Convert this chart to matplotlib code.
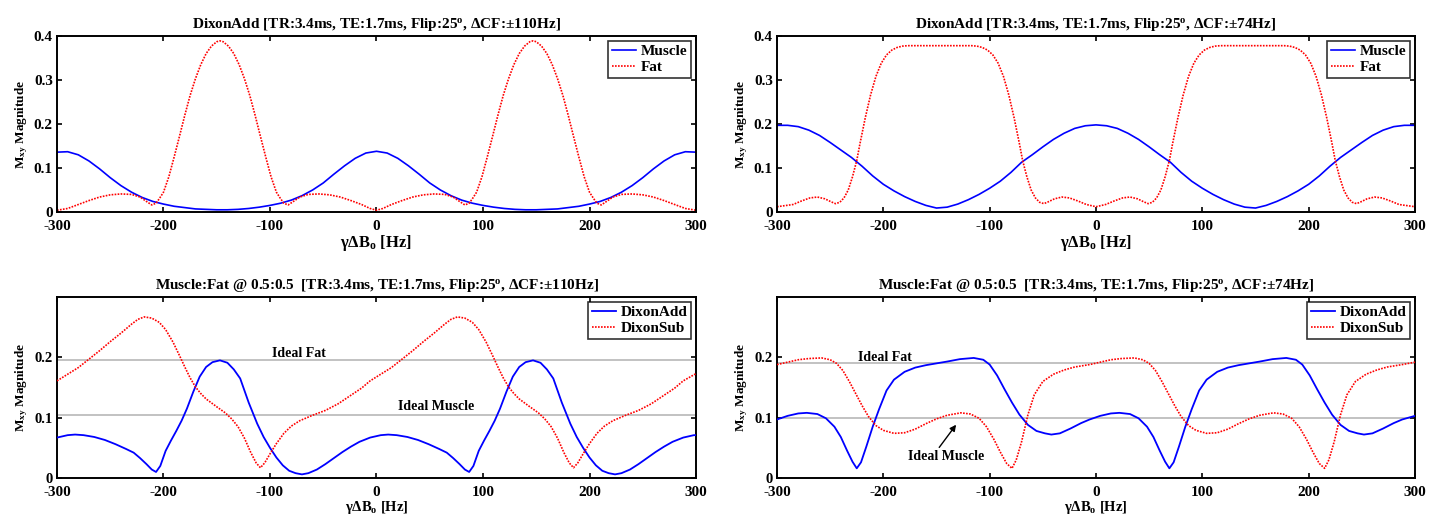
import numpy as np
import matplotlib
matplotlib.use('Agg')
import matplotlib.pyplot as plt
from matplotlib.ticker import FuncFormatter

# ---- top row: single species, DixonAdd ----
freq10 = np.arange(-300, 301, 10)

muscle_110 = [0.136, 0.137, 0.130, 0.116, 0.098, 0.078, 0.060, 0.045, 0.033, 0.024,
              0.018, 0.013, 0.010, 0.007, 0.006, 0.005, 0.005, 0.006, 0.008, 0.011,
              0.015, 0.020, 0.027, 0.037, 0.050, 0.066, 0.086, 0.105, 0.122, 0.134,
              0.138,
              0.134, 0.122, 0.105, 0.086, 0.066, 0.050, 0.037, 0.027, 0.020, 0.015,
              0.011, 0.008, 0.006, 0.005, 0.005, 0.006, 0.007, 0.010, 0.013, 0.018,
              0.024, 0.033, 0.045, 0.060, 0.078, 0.098, 0.116, 0.130, 0.137, 0.136]

fat_110_x = [-300, -290, -280, -270, -260, -250, -240, -230, -222, -216, -211, -207, -204,
             -200, -195, -190, -185, -180, -175, -170, -165, -160, -155, -150, -147,
             -144, -139, -134, -129, -124, -119, -114, -109, -104, -99, -94, -90, -87,
             -83, -78, -72, -64, -54, -44, -34, -24, -14, -6, 0,
             6, 14, 24, 34, 44, 54, 64, 72, 78, 83, 87, 90, 94, 99, 104, 109, 114, 119,
             124, 129, 134, 139, 144, 147, 150, 155, 160, 165, 170, 175, 180, 185, 190,
             195, 200, 204, 207, 211, 216, 222, 230, 240, 250, 260, 270, 280, 290, 300]
fat_110 = [0.004, 0.008, 0.017, 0.026, 0.034, 0.039, 0.041, 0.040, 0.034, 0.024, 0.016, 0.020, 0.030,
           0.045, 0.080, 0.125, 0.172, 0.220, 0.265, 0.303, 0.335, 0.360, 0.377, 0.387, 0.389,
           0.387, 0.377, 0.360, 0.335, 0.303, 0.265, 0.220, 0.172, 0.125, 0.080, 0.045, 0.030, 0.020,
           0.016, 0.024, 0.034, 0.040, 0.041, 0.039, 0.034, 0.026, 0.017, 0.008, 0.004,
           0.008, 0.017, 0.026, 0.034, 0.039, 0.041, 0.040, 0.034, 0.024, 0.016, 0.020, 0.030, 0.045,
           0.080, 0.125, 0.172, 0.220, 0.265, 0.303, 0.335, 0.360, 0.377, 0.387, 0.389, 0.387, 0.377,
           0.360, 0.335, 0.303, 0.265, 0.220, 0.172, 0.125, 0.080, 0.045, 0.030, 0.020, 0.016, 0.024,
           0.034, 0.040, 0.041, 0.039, 0.034, 0.026, 0.017, 0.008, 0.004]

muscle_74 = [0.197, 0.197, 0.194, 0.186, 0.174, 0.158, 0.141, 0.124, 0.104, 0.082,
             0.063, 0.048, 0.035, 0.024, 0.015, 0.009, 0.011, 0.018, 0.028, 0.040,
             0.054, 0.070, 0.090, 0.113, 0.130, 0.148, 0.165, 0.179, 0.190, 0.196,
             0.198,
             0.196, 0.190, 0.179, 0.165, 0.148, 0.130, 0.113, 0.090, 0.070, 0.054,
             0.040, 0.028, 0.018, 0.011, 0.009, 0.015, 0.024, 0.035, 0.048, 0.063,
             0.082, 0.104, 0.124, 0.141, 0.158, 0.174, 0.186, 0.194, 0.197, 0.197]

fat_74_x = [-300, -285, -277, -269, -262, -255, -249, -245, -241, -237, -233, -229, -225,
            -222, -217, -212, -207, -202, -197, -192, -187, -182, -177, -147, -117, -112,
            -107, -102, -97, -92, -87, -82, -77, -72, -69, -65, -61, -57, -53, -49, -45,
            -39, -32, -25, -17, -9, 0,
            9, 17, 25, 32, 39, 45, 49, 53, 57, 61, 65, 69, 72, 77, 82, 87, 92, 97, 102,
            107, 112, 117, 147, 177, 182, 187, 192, 197, 202, 207, 212, 217, 222, 225,
            229, 233, 237, 241, 245, 249, 255, 262, 269, 277, 285, 300]
fat_74 = [0.012, 0.017, 0.025, 0.032, 0.034, 0.030, 0.023, 0.019, 0.022, 0.032, 0.050, 0.080, 0.117,
          0.155, 0.214, 0.266, 0.308, 0.338, 0.357, 0.368, 0.374, 0.377, 0.378, 0.378, 0.378, 0.377,
          0.374, 0.368, 0.357, 0.338, 0.308, 0.266, 0.214, 0.155, 0.117, 0.080, 0.050, 0.032, 0.022,
          0.019, 0.023, 0.030, 0.034, 0.032, 0.025, 0.017, 0.012,
          0.017, 0.025, 0.032, 0.034, 0.030, 0.023, 0.019, 0.022, 0.032, 0.050, 0.080, 0.117, 0.155,
          0.214, 0.266, 0.308, 0.338, 0.357, 0.368, 0.374, 0.377, 0.378, 0.378, 0.378, 0.377, 0.374,
          0.368, 0.357, 0.338, 0.308, 0.266, 0.214, 0.155, 0.117, 0.080, 0.050, 0.032, 0.022, 0.019,
          0.023, 0.030, 0.034, 0.032, 0.025, 0.017, 0.012]

# ---- bottom row: Muscle:Fat 0.5:0.5 ----
add_110_x = [-300, -290, -283, -275, -265, -255, -245, -235, -228, -222, -216, -211, -207, -203,
             -198, -193, -188, -183, -178, -172, -166, -160, -154, -147, -140, -134, -128, -120,
             -112, -106, -100, -94, -88, -82, -76, -70, -64, -56, -48, -40, -32, -24, -16, -6,
             4, 11, 19, 29, 39, 49, 59, 66, 72, 78, 83, 87, 91, 96, 101, 106, 111, 116, 122,
             128, 134, 140, 147, 154, 160, 166, 174, 182, 188, 194, 200, 206, 212, 218, 224,
             230, 238, 246, 254, 262, 270, 278, 288, 298, 300]
add_110 = [0.067, 0.071, 0.072, 0.071, 0.068, 0.063, 0.056, 0.048, 0.042, 0.033, 0.023, 0.014, 0.010, 0.020,
           0.045, 0.062, 0.078, 0.095, 0.115, 0.143, 0.168, 0.184, 0.192, 0.195, 0.191, 0.180, 0.165, 0.125,
           0.090, 0.068, 0.050, 0.034, 0.021, 0.012, 0.008, 0.006, 0.008, 0.014, 0.023, 0.033, 0.043, 0.052,
           0.060, 0.067,
           0.071, 0.072, 0.071, 0.068, 0.063, 0.056, 0.048, 0.042, 0.033, 0.023, 0.014, 0.010, 0.020, 0.045,
           0.062, 0.078, 0.095, 0.115, 0.143, 0.168, 0.184, 0.192, 0.195, 0.191, 0.180, 0.165, 0.125, 0.090,
           0.068, 0.050, 0.034, 0.021, 0.012, 0.008, 0.006, 0.008, 0.014, 0.023, 0.033, 0.043, 0.052, 0.060,
           0.067, 0.071, 0.071]

sub_110_x = [-300, -290, -280, -270, -260, -250, -240, -230, -224, -218, -211, -204, -198, -191,
             -185, -180, -175, -170, -165, -160, -150, -142, -136, -130, -124, -118, -113, -109,
             -105, -100, -94, -87, -80, -72, -60, -48, -36, -25, -14, -6,
             4, 14, 24, 34, 44, 54, 64, 70, 76, 83, 90, 96, 103, 109, 114, 119, 124, 129, 134,
             144, 152, 158, 164, 170, 176, 181, 185, 189, 194, 200, 207, 214, 222, 234, 246,
             258, 269, 280, 288, 300]
sub_110 = [0.161, 0.172, 0.183, 0.197, 0.211, 0.226, 0.240, 0.255, 0.263, 0.267, 0.265, 0.258, 0.246, 0.225,
           0.203, 0.184, 0.166, 0.151, 0.140, 0.131, 0.118, 0.108, 0.098, 0.085, 0.066, 0.042, 0.025, 0.017,
           0.025, 0.040, 0.057, 0.074, 0.086, 0.095, 0.104, 0.112, 0.123, 0.136, 0.149, 0.161,
           0.172, 0.183, 0.197, 0.211, 0.226, 0.240, 0.255, 0.263, 0.267, 0.265, 0.258, 0.246, 0.225, 0.203,
           0.184, 0.166, 0.151, 0.140, 0.131, 0.118, 0.108, 0.098, 0.085, 0.066, 0.042, 0.025, 0.017, 0.025,
           0.040, 0.057, 0.074, 0.086, 0.095, 0.104, 0.112, 0.123, 0.136, 0.149, 0.161, 0.173]

add_74_x = [-300, -290, -280, -272, -262, -254, -246, -240, -234, -229, -225, -221, -216, -210,
            -204, -197, -190, -180, -170, -160, -150, -140, -128, -115, -106, -100, -93, -86,
            -79, -72, -64, -56, -48, -42, -34, -24, -14, -6,
            4, 14, 22, 32, 40, 48, 54, 60, 65, 69, 73, 78, 84, 90, 97, 104, 114, 124, 134,
            144, 154, 166, 179, 188, 194, 201, 208, 215, 222, 230, 238, 246, 252, 260, 270,
            280, 288, 300]
add_74 = [0.097, 0.103, 0.107, 0.108, 0.106, 0.099, 0.085, 0.068, 0.045, 0.027, 0.016, 0.026, 0.052, 0.085,
          0.114, 0.145, 0.163, 0.176, 0.183, 0.187, 0.190, 0.193, 0.197, 0.199, 0.196, 0.188, 0.170, 0.147,
          0.125, 0.105, 0.088, 0.078, 0.074, 0.072, 0.074, 0.082, 0.091, 0.097,
          0.103, 0.107, 0.108, 0.106, 0.099, 0.085, 0.068, 0.045, 0.027, 0.016, 0.026, 0.052, 0.085, 0.114,
          0.145, 0.163, 0.176, 0.183, 0.187, 0.190, 0.193, 0.197, 0.199, 0.196, 0.188, 0.170, 0.147, 0.125,
          0.105, 0.088, 0.078, 0.074, 0.072, 0.074, 0.082, 0.091, 0.097, 0.103]

sub_74_x = [-300, -290, -280, -270, -258, -250, -244, -238, -232, -226, -220, -214, -207, -200,
            -190, -180, -170, -160, -150, -140, -127, -118, -110, -103, -96, -90, -84, -79,
            -75, -70, -64, -58, -50, -40, -30, -20, -6,
            4, 14, 24, 36, 44, 50, 56, 62, 68, 74, 80, 87, 94, 104, 114, 124, 134, 144, 154,
            167, 176, 184, 191, 198, 204, 210, 215, 219, 224, 230, 236, 244, 254, 264, 274,
            288, 300]
sub_74 = [0.188, 0.192, 0.196, 0.198, 0.199, 0.196, 0.190, 0.178, 0.160, 0.140, 0.120, 0.102, 0.087, 0.079,
          0.074, 0.075, 0.081, 0.090, 0.098, 0.104, 0.108, 0.106, 0.099, 0.085, 0.064, 0.043, 0.024, 0.016,
          0.030, 0.060, 0.105, 0.138, 0.160, 0.172, 0.179, 0.184, 0.188,
          0.192, 0.196, 0.198, 0.199, 0.196, 0.190, 0.178, 0.160, 0.140, 0.120, 0.102, 0.087, 0.079, 0.074,
          0.075, 0.081, 0.090, 0.098, 0.104, 0.108, 0.106, 0.099, 0.085, 0.064, 0.043, 0.024, 0.016, 0.030,
          0.060, 0.105, 0.138, 0.160, 0.172, 0.179, 0.184, 0.188, 0.192]

ideal_fat = [0.195, 0.190]
ideal_muscle = [0.105, 0.099]

cf_labels = ["110", "74"]

plt.rcParams.update({
    'font.family': ['Liberation Serif', 'DejaVu Serif'],
    'font.weight': 'bold',
    'font.size': 11,
    'mathtext.fontset': 'custom',
    'mathtext.rm': 'Liberation Serif:bold',
    'mathtext.it': 'Liberation Serif:italic:bold',
    'mathtext.bf': 'Liberation Serif:bold',
    'axes.unicode_minus': False,
    'axes.linewidth': 1.4,
    'xtick.direction': 'in', 'ytick.direction': 'in',
    'xtick.top': True, 'ytick.right': True,
    'xtick.major.size': 3.5, 'ytick.major.size': 3.5,
    'xtick.major.width': 1.2, 'ytick.major.width': 1.2,
    'xtick.major.pad': 6, 'ytick.major.pad': 3,
})

fig = plt.figure(figsize=(14.4, 5.18), dpi=100)
W, H = 1440.0, 518.0


def px_axes(x0, y0, x1, y1):
    return fig.add_axes([x0 / W, 1 - y1 / H, (x1 - x0) / W, (y1 - y0) / H])


ax_tl = px_axes(57, 36, 696, 212)
ax_tr = px_axes(777, 36, 1415, 212)
ax_bl = px_axes(57, 297, 696, 478)
ax_br = px_axes(777, 297, 1415, 478)

fmt = FuncFormatter(lambda v, p: "0" if abs(v) < 1e-9 else f"{v:g}")

blue = "#0000ff"
red = "#ff0000"
dotted = (0, (1.0, 0.8))

top_data = [(ax_tl, muscle_110, fat_110_x, fat_110, cf_labels[0]),
            (ax_tr, muscle_74, fat_74_x, fat_74, cf_labels[1])]
for ax, mus, fx, fy, cf in top_data:
    ax.plot(freq10, mus, color=blue, lw=1.2, label="Muscle")
    ax.plot(fx, fy, color=red, lw=1.2, ls=dotted, label="Fat")
    ax.set_ylim(0, 0.4)
    ax.set_yticks([0, 0.1, 0.2, 0.3, 0.4])
    ax.set_title("DixonAdd [TR:3.4ms, TE:1.7ms, Flip:25$^{\\rm o}$, ΔCF:±" + cf + "Hz]",
                 fontsize=11, fontweight="bold", pad=6)
    ax.set_xlabel("γΔB$_{\\rm o}$ [Hz]", fontsize=12, fontweight="bold", labelpad=0)

bot_data = [(ax_bl, add_110_x, add_110, sub_110_x, sub_110, 0),
            (ax_br, add_74_x, add_74, sub_74_x, sub_74, 1)]
for ax, ax_x, ax_y, sx, sy, i in bot_data:
    ax.axhline(ideal_fat[i], color="0.72", lw=1.2, zorder=1)
    ax.axhline(ideal_muscle[i], color="0.72", lw=1.2, zorder=1)
    ax.plot(ax_x, ax_y, color=blue, lw=1.3, label="DixonAdd", zorder=3)
    ax.plot(sx, sy, color=red, lw=1.2, ls=dotted, label="DixonSub", zorder=3)
    ax.set_ylim(0, 0.3)
    ax.set_yticks([0, 0.1, 0.2])
    ax.set_title("Muscle:Fat @ 0.5:0.5  [TR:3.4ms, TE:1.7ms, Flip:25$^{\\rm o}$, ΔCF:±"
                 + cf_labels[i] + "Hz]", fontsize=11, fontweight="bold", pad=6)
    # the reference crops this label at the bottom edge; squeeze it just inside
    ax.tick_params(axis="x", pad=5.5)
    ax.tick_params(axis="y", labelsize=10.5)
    ax.set_xlabel("γΔB$_{\\rm o}$ [Hz]", fontsize=10.5, fontweight="bold", labelpad=0)

ax_bl.text(-73, 0.207, "Ideal Fat", ha="center", va="center", fontsize=10)
ax_bl.text(56, 0.1185, "Ideal Muscle", ha="center", va="center", fontsize=10)
ax_br.text(-224, 0.200, "Ideal Fat", ha="left", va="center", fontsize=10)
ax_br.text(-141, 0.036, "Ideal Muscle", ha="center", va="center", fontsize=10)
ax_br.annotate("", xy=(-130, 0.092), xytext=(-149, 0.047),
               arrowprops=dict(arrowstyle="-|>", color="k", lw=1.0, mutation_scale=9))

for ax in [ax_tl, ax_tr, ax_bl, ax_br]:
    ax.set_xlim(-300, 300)
    ax.set_xticks(np.arange(-300, 301, 100))
    ax.yaxis.set_major_formatter(fmt)
    ax.set_ylabel("M$_{\\rm xy}$ Magnitude", fontsize=9.5, fontweight="bold", labelpad=3)
    for t in ax.get_xticklabels() + ax.get_yticklabels():
        t.set_fontweight("bold")
    leg = ax.legend(loc="upper right", fontsize=11, frameon=True, fancybox=False,
                    edgecolor="k", handlelength=1.6, handletextpad=0.3,
                    borderpad=0.25, labelspacing=0.15, borderaxespad=0.3)
    leg.get_frame().set_linewidth(1.2)

fig.savefig("out.png", dpi=100)
